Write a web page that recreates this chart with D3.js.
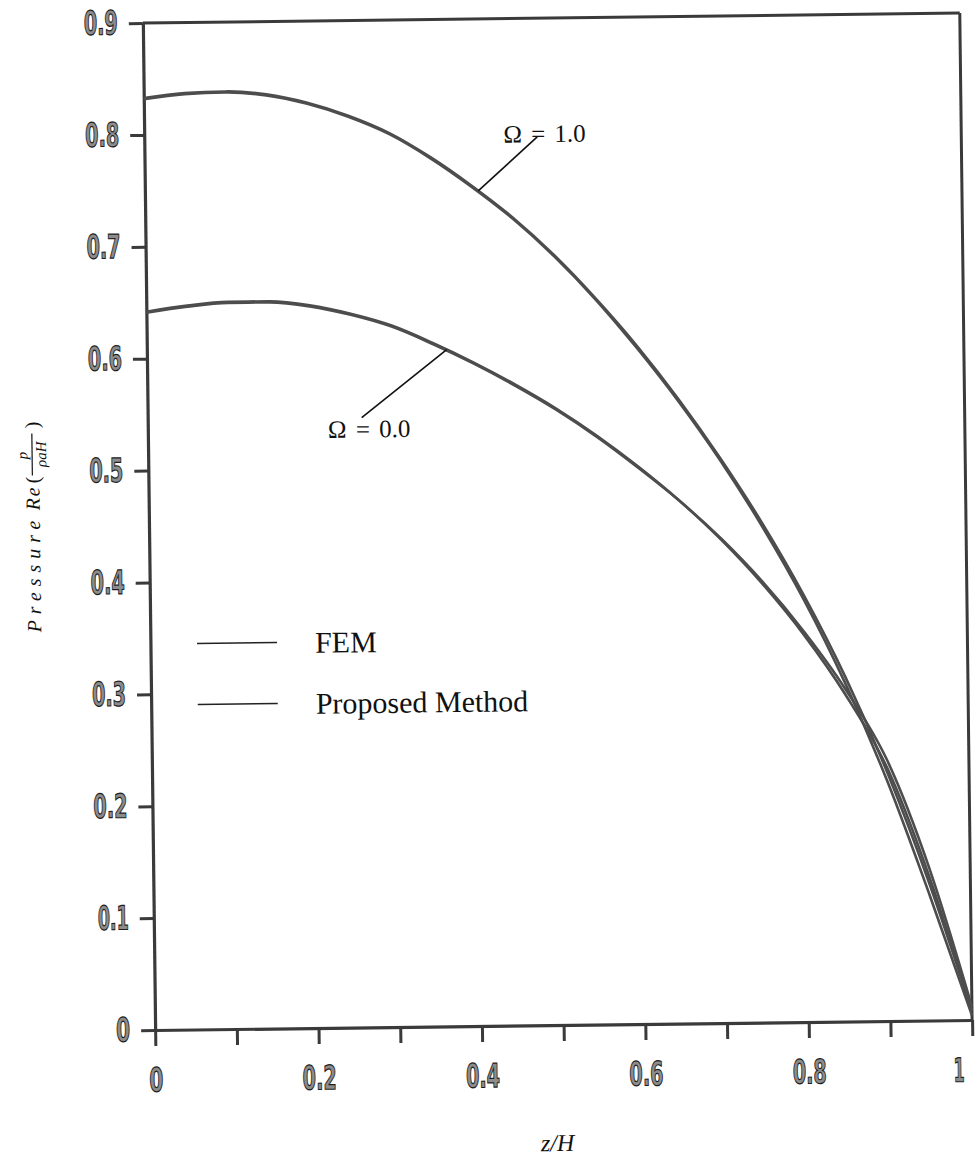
<!DOCTYPE html>
<html>
<head>
<meta charset="utf-8">
<script src="https://cdn.jsdelivr.net/npm/d3@7"></script>
<style>
  body { margin: 0; background: #fff; }
  .num { font-family: "DejaVu Sans", sans-serif; font-stretch: condensed;
         font-weight: bold; font-size: 33px; fill: #8c8c8c; stroke: #1e1e1e; stroke-width: 1.2px; }
  .serif { font-family: "Liberation Serif", "DejaVu Serif", serif; fill: #111; }
</style>
</head>
<body>
<svg id="chart"></svg>
<script>
// z/H positions where the curves were read
var zH = [0, 0.05, 0.1, 0.15, 0.2, 0.25, 0.3, 0.35, 0.4, 0.45, 0.5,
          0.55, 0.6, 0.65, 0.7, 0.75, 0.8, 0.85, 0.9, 0.95, 1.0];

// Omega = 1.0 (FEM and proposed method)
var femOmega1 = [0.833, 0.837, 0.838, 0.835, 0.827, 0.815, 0.799, 0.777, 0.751, 0.722, 0.688,
                 0.649, 0.606, 0.558, 0.505, 0.447, 0.382, 0.308, 0.222, 0.122, 0.008];
var propOmega1 = [0.832, 0.836, 0.837, 0.834, 0.826, 0.814, 0.798, 0.776, 0.750, 0.721, 0.687,
                  0.648, 0.604, 0.556, 0.503, 0.444, 0.378, 0.302, 0.214, 0.112, 0.004];

// Omega = 0.0 (FEM and proposed method)
var femOmega0 = [0.642, 0.647, 0.650, 0.650, 0.646, 0.638, 0.627, 0.611, 0.593, 0.573, 0.551,
                 0.526, 0.498, 0.467, 0.432, 0.392, 0.346, 0.292, 0.226, 0.128, 0.008];
var propOmega0 = [0.641, 0.646, 0.649, 0.649, 0.645, 0.637, 0.626, 0.610, 0.592, 0.572, 0.550,
                  0.525, 0.497, 0.467, 0.433, 0.394, 0.349, 0.297, 0.233, 0.136, 0.012];

// ticks
var xTicks = [0, 0.1, 0.2, 0.3, 0.4, 0.5, 0.6, 0.7, 0.8, 0.9, 1];
var xTickLabels = ["0", "", "0.2", "", "0.4", "", "0.6", "", "0.8", "", "1"];
var yTicks = [0, 0.1, 0.2, 0.3, 0.4, 0.5, 0.6, 0.7, 0.8, 0.9];
var yTickLabels = ["0", "0.1", "0.2", "0.3", "0.4", "0.5", "0.6", "0.7", "0.8", "0.9"];

// curve labels: [text, label z/H, label value, leader start z/H, leader start value, leader end z/H, curve]
var curveLabels = [
    ["\u03A9 = 1.0", 0.490, 0.797, 0.481, 0.794, 0.408, femOmega1],
    ["\u03A9 = 0.0", 0.271, 0.535, 0.262, 0.545, 0.367, femOmega0]
];

var legendNames = ["FEM", "Proposed Method"];

// margin convention
var margin = { top: 18, right: 10, bottom: 133, left: 149 },
    fullWidth = 976,
    fullHeight = 1158,
    width = 817,
    height = fullHeight - margin.top - margin.bottom;

var svg = d3.select("#chart")
    .attr("width", fullWidth)
    .attr("height", fullHeight);

svg.append("rect")
    .attr("width", fullWidth)
    .attr("height", fullHeight)
    .attr("fill", "#fff");

// the scanned figure is a little tilted
var g = svg.append("g")
    .attr("transform", "rotate(-0.7, 560, 525) translate(" + margin.left + "," + margin.top + ")");

var x = d3.scaleLinear().domain([0, 1]).range([0, width]);
var y = d3.scaleLinear().domain([0, 0.9]).range([height, 0]);

var axisColor = "#3a3a3a";

// narrow, tall tick numbers like the original
var numLength = function (s) {
    var w = 0;
    s.split("").forEach(function (ch) { w += ch === "." ? 6 : (ch === "1" ? 11 : 14); });
    return w;
};

// x axis
var xAxis = g.append("g")
    .attr("transform", "translate(0," + height + ")")
    .call(d3.axisBottom(x)
        .tickValues(xTicks)
        .tickSize(16)
        .tickSizeOuter(0)
        .tickPadding(22)
        .tickFormat(function (d, i) { return xTickLabels[i]; }));

// y axis
var yAxis = g.append("g")
    .call(d3.axisLeft(y)
        .tickValues(yTicks)
        .tickSize(14)
        .tickSizeOuter(0)
        .tickPadding(11)
        .tickFormat(function (d, i) { return yTickLabels[i]; }));

[xAxis, yAxis].forEach(function (a) {
    a.select(".domain").attr("stroke", axisColor).attr("stroke-width", 3.2);
    a.selectAll(".tick line").attr("stroke", axisColor).attr("stroke-width", 3);
    a.selectAll(".tick text")
        .attr("class", "num")
        .attr("fill", null)
        .attr("textLength", function () { return numLength(this.textContent || " "); })
        .attr("lengthAdjust", "spacingAndGlyphs");
});
xAxis.attr("font-size", null).attr("font-family", null);
yAxis.attr("font-size", null).attr("font-family", null);

// keep the "1" inside the page
xAxis.selectAll(".tick text").filter(function (d) { return d === 1; }).attr("dx", -14);

// frame: top and right side
g.append("line")
    .attr("x1", x(0)).attr("x2", x(1))
    .attr("y1", y(0.9)).attr("y2", y(0.9))
    .attr("stroke", axisColor).attr("stroke-width", 3);

g.append("line")
    .attr("x1", x(1)).attr("x2", x(1))
    .attr("y1", y(0.9)).attr("y2", y(0))
    .attr("stroke", axisColor).attr("stroke-width", 3);

// curves
var line = d3.line()
    .x(function (d) { return x(d[0]); })
    .y(function (d) { return y(d[1]); })
    .curve(d3.curveMonotoneX);

[femOmega1, propOmega1, femOmega0, propOmega0].forEach(function (series) {
    g.append("path")
        .datum(d3.zip(zH, series))
        .attr("fill", "none")
        .attr("stroke", "#4d4d4d")
        .attr("stroke-width", 2.6)
        .attr("d", line);
});

// curve labels with leader lines
var valueAt = function (series, t) {
    var i = d3.bisectLeft(zH, t);
    if (i <= 0) return series[0];
    var t0 = zH[i - 1], t1 = zH[i];
    return series[i - 1] + (series[i] - series[i - 1]) * (t - t0) / (t1 - t0);
};

curveLabels.forEach(function (c) {
    g.append("text")
        .attr("class", "serif")
        .attr("x", x(c[1]))
        .attr("y", y(c[2]))
        .attr("dy", "0.35em")
        .attr("text-anchor", "middle")
        .style("font-size", "25px")
        .style("word-spacing", "3px")
        .text(c[0]);

    g.append("line")
        .attr("x1", x(c[3])).attr("y1", y(c[4]))
        .attr("x2", x(c[5])).attr("y2", y(valueAt(c[6], c[5])))
        .attr("stroke", "#111")
        .attr("stroke-width", 1.6);
});

// legend
var legend = g.append("g")
    .attr("transform", "translate(" + (195.6 - margin.left) + "," + (639 - margin.top) + ")");

legendNames.forEach(function (name, i) {
    legend.append("line")
        .attr("x1", 0).attr("x2", 80)
        .attr("y1", i * 61).attr("y2", i * 61)
        .attr("stroke", "#222")
        .attr("stroke-width", 1.6);

    legend.append("text")
        .attr("class", "serif")
        .attr("x", 118)
        .attr("y", i * 61)
        .attr("dy", "0.36em")
        .style("font-size", "30px")
        .text(name);
});

// y axis label, rotated; local x runs upwards along the label
var yLabel = g.append("g")
    .attr("transform", "translate(" + (33 - margin.left) + "," + (516 - margin.top) + ") rotate(-90)");

yLabel.append("text")
    .attr("class", "serif")
    .attr("x", -110)
    .attr("y", 7)
    .style("font-size", "20px")
    .style("font-style", "italic")
    .style("letter-spacing", "6px")
    .text("Pressure");

yLabel.append("text")
    .attr("class", "serif")
    .attr("x", 12)
    .attr("y", 7)
    .style("font-size", "20px")
    .style("font-style", "italic")
    .style("letter-spacing", "2px")
    .text("Re");

yLabel.append("text")
    .attr("class", "serif")
    .attr("x", 39)
    .attr("y", 7)
    .style("font-size", "20px")
    .text("(");

// fraction p / rho a H
yLabel.append("text")
    .attr("class", "serif")
    .attr("x", 67)
    .attr("y", -5)
    .attr("text-anchor", "middle")
    .style("font-size", "15px")
    .style("font-style", "italic")
    .text("p");

yLabel.append("line")
    .attr("x1", 47).attr("x2", 89)
    .attr("y1", 0).attr("y2", 0)
    .attr("stroke", "#111").attr("stroke-width", 1.2);

yLabel.append("text")
    .attr("class", "serif")
    .attr("x", 68)
    .attr("y", 14)
    .attr("text-anchor", "middle")
    .style("font-size", "15px")
    .style("font-style", "italic")
    .text("\u03C1aH");

yLabel.append("text")
    .attr("class", "serif")
    .attr("x", 94)
    .attr("y", 7)
    .style("font-size", "20px")
    .text(")");

// x axis label
g.append("text")
    .attr("class", "serif")
    .attr("x", 550 - margin.left)
    .attr("y", 1151 - margin.top)
    .attr("text-anchor", "middle")
    .style("font-size", "24px")
    .style("font-style", "italic")
    .text("z/H");
</script>
</body>
</html>
